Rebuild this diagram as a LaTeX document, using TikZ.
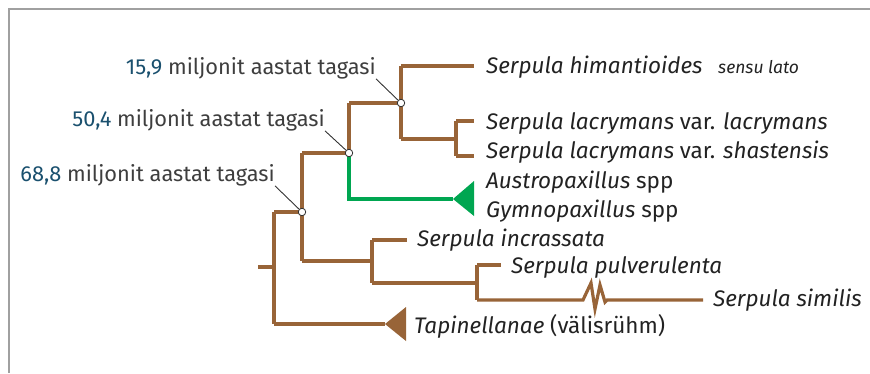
\documentclass[tikz,border=0pt]{standalone}
\usepackage{fontspec}
\setmainfont{Fira Sans}
\definecolor{branchbrown}{RGB}{152,100,56}
\definecolor{cladegreen}{RGB}{0,166,81}
\definecolor{agenum}{RGB}{26,80,110}
\definecolor{agetext}{RGB}{62,62,62}
\definecolor{taxontext}{RGB}{34,34,34}
\definecolor{framegray}{RGB}{160,160,160}
\tikzset{
  br/.style={draw=branchbrown, line width=3.2pt, line cap=butt, line join=miter},
  gr/.style={draw=cladegreen, line width=3.2pt, line join=miter},
  junction/.style={circle, draw=black!80, fill=white, line width=0.8pt, minimum size=7.5pt, inner sep=0pt},
  leader/.style={draw=black!80, line width=0.9pt},
  taxon/.style={anchor=base west, inner sep=0pt, text=taxontext, font=\fontsize{22.5}{26}\selectfont\itshape},
  age/.style={anchor=base east, inner sep=0pt, text=agetext, font=\fontsize{21.8}{26}\selectfont},
  frameline/.style={draw=framegray, line width=1.2pt}
}
\newcommand{\agelabel}[1]{\textcolor{agenum}{#1} miljonit aastat tagasi}
\begin{document}
\begin{tikzpicture}[x=1pt, y=-1pt]
\useasboundingbox (0,0) rectangle (870,373);
\draw[frameline] (9,373) -- (9,9) -- (870,9);

% branch points
\coordinate (root) at (274,267);
\coordinate (p688) at (302,212);
\coordinate (p504) at (349,153);
\coordinate (p159) at (401,103);
\coordinate (plac) at (456,139);
\coordinate (pinc) at (372,261);
\coordinate (ppul) at (477,283);

% tips
\coordinate (thim) at (474,66);
\coordinate (tlac) at (474,121);
\coordinate (tsha) at (474,156);
\coordinate (taus) at (453,199);
\coordinate (tinc) at (407,240);
\coordinate (tpul) at (501,265);
\coordinate (tsim) at (703,300);
\coordinate (ttap) at (385,324);
\coordinate (stub) at (258,267);

% root
\draw[br] (stub) -- (root);
\draw[br] (274,212) -- (274,324);
\draw[br] (274,212) -- (p688);
\draw[br] (274,324) -- (ttap);
\fill[branchbrown] (ttap) -- (406,307) -- (406,341) -- cycle;

% 68.8 split
\draw[br] (302,153) -- (302,261);
\draw[br] (302,153) -- (p504);
\draw[br] (302,261) -- (pinc);

% 50.4 split
\draw[br] (349,103) -- (p504);
\draw[br] (349,103) -- (p159);
\draw[gr] (p504) -- (349,199) -- (taus);
\fill[cladegreen] (taus) -- (474,181) -- (474,216) -- cycle;

% 15.9 split
\draw[br] (401,66) -- (401,139);
\draw[br] (401,66) -- (thim);
\draw[br] (401,139) -- (plac);
\draw[br] (456,121) -- (456,156);
\draw[br] (456,121) -- (tlac);
\draw[br] (456,156) -- (tsha);

% incrassata group
\draw[br] (372,240) -- (372,283);
\draw[br] (372,240) -- (tinc);
\draw[br] (372,283) -- (ppul);
\draw[br] (477,265) -- (477,300);
\draw[br] (477,265) -- (tpul);
\draw[br] (477,300) -- (583,300) -- (591,283) -- (595,309) -- (600,285) -- (605,302) -- (607,300) -- (tsim);

% junction markers
\node[junction] (n688) at (p688) {};
\node[junction] (n504) at (p504) {};
\node[junction] (n159) at (p159) {};

% age labels
\node[age] (t159) at (376,74) {\agelabel{15,9}};
\node[age] (t504) at (325,126) {\agelabel{50,4}};
\node[age] (t688) at (275,181) {\agelabel{68,8}};
\draw[leader] (t159.south east) -- (n159);
\draw[leader] (t504.south east) -- (n504);
\draw[leader] (t688.south east) -- (n688);

% taxa
\node[taxon] (lhim) at (486,73) {Serpula himantioides};
\node[taxon, font=\fontsize{17.5}{20}\selectfont\itshape] (lsen) at (718,73) {sensu lato};
\node[taxon] (llac) at (486,129) {Serpula lacrymans \upshape var. \itshape lacrymans};
\node[taxon] (lsha) at (486,158) {Serpula lacrymans \upshape var. \itshape shastensis};
\node[taxon] (laus) at (486,188) {Austropaxillus \upshape spp};
\node[taxon] (lgym) at (486,217) {Gymnopaxillus \upshape spp};
\node[taxon] (linc) at (417,246) {Serpula incrassata};
\node[taxon] (lpul) at (511,273) {Serpula pulverulenta};
\node[taxon] (lsim) at (713,306) {Serpula similis};
\node[taxon] (ltap) at (414,333) {Tapinellanae \upshape (välisrühm)};
\end{tikzpicture}
\end{document}
